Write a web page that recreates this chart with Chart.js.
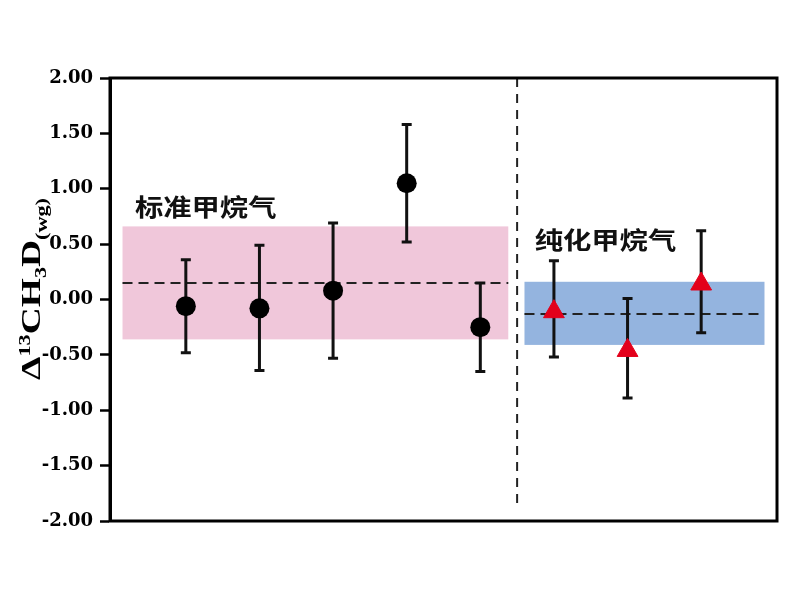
<!DOCTYPE html>
<html>
<head>
<meta charset="utf-8">
<script src="https://cdn.jsdelivr.net/npm/chart.js@4"></script>
<style>
  body { margin: 0; background: #fff; }
</style>
</head>
<body>
<canvas id="chart" width="800" height="600"></canvas>
<script>
// standard methane (black circles)
const stdX = [1, 2, 3, 4, 5];
const stdY = [-0.06, -0.08, 0.08, 1.05, -0.25];
const stdHi = [0.36, 0.49, 0.69, 1.58, 0.15];
const stdLo = [-0.48, -0.64, -0.53, 0.52, -0.65];
const stdBandY = [0.66, -0.36];
const stdBandX = [0.14, 5.38];
const stdMean = 0.15;

// purified methane (red triangles)
const purX = [6, 7, 8];
const purY = [-0.11, -0.46, 0.14];
const purHi = [0.35, 0.01, 0.62];
const purLo = [-0.52, -0.89, -0.30];
const purBandY = [0.16, -0.41];
const purBandX = [5.6, 8.86];
const purMean = -0.13;

const dividerX = 5.5;
const dividerY = [2.0, -1.9];

const groupLabels = ['标准甲烷气', '纯化甲烷气'];
const labelPos = [[1.27, 0.84], [6.7, 0.54]];

const yTicks = [-2, -1.5, -1, -0.5, 0, 0.5, 1, 1.5, 2];

function px(chart, x, y) {
    return [chart.scales.x.getPixelForValue(x), chart.scales.y.getPixelForValue(y)];
}

const backdrop = {
    id: 'backdrop',
    beforeDatasetsDraw(chart) {
        const ctx = chart.ctx;
        ctx.save();
        // bands
        const bands = [[stdBandX, stdBandY, '#f0c7da'], [purBandX, purBandY, '#94b4df']];
        for (const [bx, by, col] of bands) {
            const [x0, y0] = px(chart, bx[0], by[0]);
            const [x1, y1] = px(chart, bx[1], by[1]);
            ctx.fillStyle = col;
            ctx.fillRect(x0, y0, x1 - x0, y1 - y0);
        }
        // dashed means
        ctx.strokeStyle = '#222';
        ctx.lineWidth = 2;
        ctx.setLineDash([10, 6]);
        for (const [bx, m] of [[stdBandX, stdMean], [purBandX, purMean]]) {
            const [x0, y0] = px(chart, bx[0], m);
            const [x1] = px(chart, bx[1], m);
            ctx.beginPath();
            ctx.moveTo(x0, y0);
            ctx.lineTo(x1, y0);
            ctx.stroke();
        }
        // divider
        ctx.setLineDash([9, 7]);
        const [dx, dy0] = px(chart, dividerX, dividerY[0]);
        const [, dy1] = px(chart, dividerX, dividerY[1]);
        ctx.beginPath();
        ctx.moveTo(dx, dy0);
        ctx.lineTo(dx, dy1);
        ctx.stroke();
        ctx.setLineDash([]);

        // error bars
        ctx.strokeStyle = '#111';
        ctx.lineWidth = 3;
        const bars = [[stdX, stdHi, stdLo], [purX, purHi, purLo]];
        for (const [xs, hi, lo] of bars) {
            xs.forEach((x, i) => {
                const [cx, top] = px(chart, x, hi[i]);
                const [, bot] = px(chart, x, lo[i]);
                ctx.beginPath();
                ctx.moveTo(cx, top);
                ctx.lineTo(cx, bot);
                ctx.moveTo(cx - 5, top);
                ctx.lineTo(cx + 5, top);
                ctx.moveTo(cx - 5, bot);
                ctx.lineTo(cx + 5, bot);
                ctx.stroke();
            });
        }

        // group labels
        ctx.fillStyle = '#111';
        ctx.font = 'bold 24px "Noto Sans CJK SC"';
        ctx.textAlign = 'center';
        ctx.textBaseline = 'middle';
        groupLabels.forEach((t, i) => {
            const [lx, ly] = px(chart, labelPos[i][0], labelPos[i][1]);
            ctx.save();
            ctx.translate(lx, ly);
            ctx.scale(1.18, 1);
            ctx.fillText(t, 0, 0);
            ctx.restore();
        });
        ctx.restore();
    },
    afterDatasetsDraw(chart) {
        const ctx = chart.ctx;
        const a = chart.chartArea;
        ctx.save();
        ctx.strokeStyle = '#000';
        ctx.lineWidth = 3;
        ctx.strokeRect(a.left, a.top, a.right - a.left, a.bottom - a.top);

        // y axis title: Δ13CH3D(wg)
        const parts = [
            { t: 'Δ', s: 27, d: 0 },
            { t: '13', s: 16, d: -10 },
            { t: 'CH', s: 27, d: 0 },
            { t: '3', s: 16, d: 6 },
            { t: 'D', s: 27, d: 0 },
            { t: '(wg)', s: 16, d: 7 }
        ];
        let total = 0;
        for (const p of parts) {
            ctx.font = `bold ${p.s}px "Liberation Serif"`;
            p.w = ctx.measureText(p.t).width;
            total += p.w;
        }
        ctx.translate(40, 289);
        ctx.rotate(-Math.PI / 2);
        ctx.scale(182 / total, 1);
        ctx.fillStyle = '#000';
        ctx.textBaseline = 'alphabetic';
        ctx.textAlign = 'left';
        let xx = -total / 2;
        for (const p of parts) {
            ctx.font = `bold ${p.s}px "Liberation Serif"`;
            ctx.fillText(p.t, xx, p.d);
            xx += p.w;
        }
        ctx.restore();
    }
};

new Chart(document.getElementById('chart'), {
    type: 'scatter',
    data: {
        datasets: [
            {
                label: 'std',
                data: stdX.map((x, i) => ({ x: x, y: stdY[i] })),
                pointStyle: 'circle',
                pointRadius: 10,
                backgroundColor: '#000',
                borderColor: '#000',
                borderWidth: 0
            },
            {
                label: 'pur',
                data: purX.map((x, i) => ({ x: x, y: purY[i] })),
                pointStyle: 'triangle',
                pointRadius: 12,
                backgroundColor: '#e3001b',
                borderColor: '#e3001b',
                borderWidth: 1
            }
        ]
    },
    options: {
        responsive: false,
        animation: false,
        devicePixelRatio: 1,
        layout: { padding: { left: 0, top: 78, right: 23, bottom: 79 } },
        plugins: { legend: { display: false }, tooltip: { enabled: false } },
        scales: {
            x: {
                type: 'linear',
                min: -0.03,
                max: 9.03,
                display: false
            },
            y: {
                min: -2,
                max: 2,
                afterFit(scale) { scale.width = 110; },
                afterBuildTicks(scale) { scale.ticks = yTicks.map(v => ({ value: v })); },
                border: { display: true, color: '#000', width: 3 },
                grid: { drawOnChartArea: false, drawTicks: true, tickLength: 10, tickWidth: 2.5, tickColor: '#000' },
                ticks: {
                    color: '#000',
                    padding: 7,
                    font: { family: '"DejaVu Serif"', size: 18, weight: 'bold' },
                    callback: v => v.toFixed(2)
                }
            }
        }
    },
    plugins: [backdrop]
});
</script>
</body>
</html>
